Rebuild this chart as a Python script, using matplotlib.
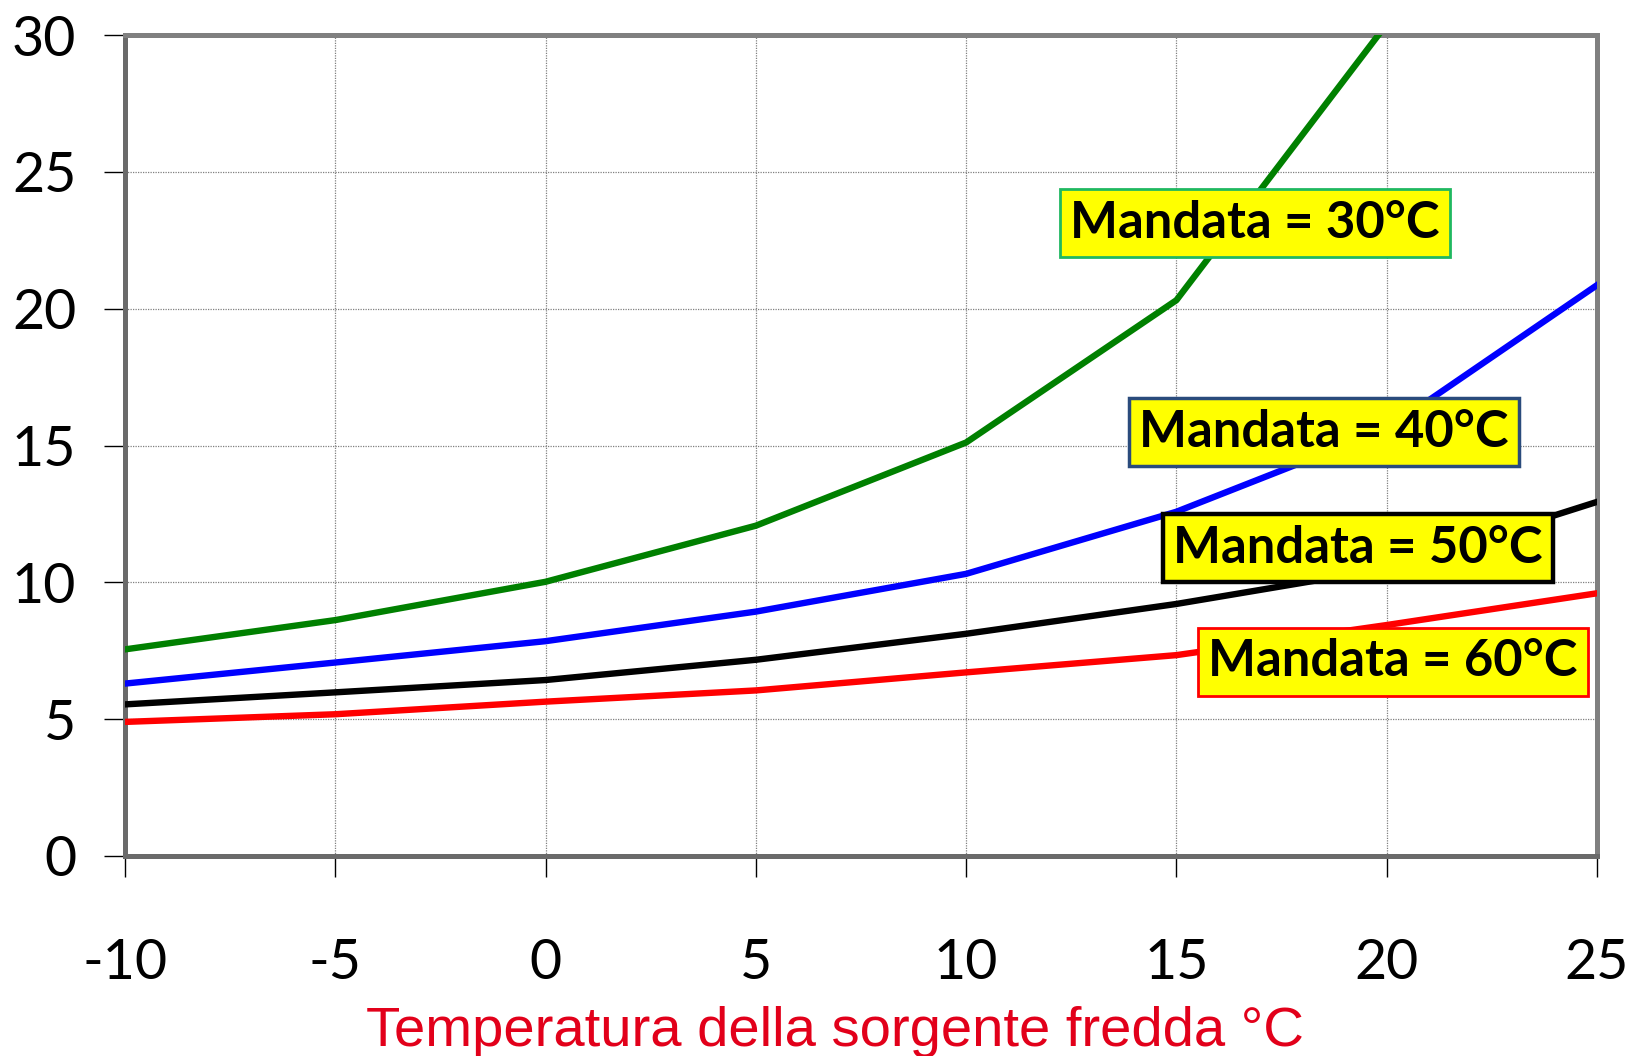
import matplotlib
matplotlib.use("Agg")
import matplotlib.pyplot as plt

# ---- data ----
temp_source = [-10, -5, 0, 5, 10, 15, 20, 25]
cop_30 = [7.55, 8.62, 10.02, 12.07, 15.11, 20.31, 30.4]
cop_40 = [6.30, 7.07, 7.85, 8.93, 10.31, 12.58, 15.6, 20.86]
cop_50 = [5.54, 5.98, 6.43, 7.17, 8.12, 9.21, 10.5, 12.94]
cop_60 = [4.90, 5.18, 5.64, 6.05, 6.71, 7.34, 8.44, 9.60]
series_labels = ["Mandata = 30°C", "Mandata = 40°C", "Mandata = 50°C", "Mandata = 60°C"]
x_ticks = [-10, -5, 0, 5, 10, 15, 20, 25]
y_ticks = [0, 5, 10, 15, 20, 25, 30]
x_title = "Temperatura della sorgente fredda °C"

fig = plt.figure(figsize=(16.34, 10.56), dpi=100)
ax = fig.add_axes([125/1634, 1-856/1056, (1597-125)/1634, (856-35)/1056])

line_colors = ["#008000", "#0000ff", "#000000", "#ff0000"]
series = [cop_30, cop_40, cop_50, cop_60]
for vals, c in zip(series, line_colors):
    ax.plot(temp_source[:len(vals)], vals, color=c, lw=4.6, solid_joinstyle="round", zorder=3)

ax.set_xlim(-10, 25)
ax.set_ylim(0, 30)
ax.set_xticks(x_ticks)
ax.set_yticks(y_ticks)
ax.set_xticklabels([str(v) for v in x_ticks])
ax.set_yticklabels([str(v) for v in y_ticks])

ax.grid(True, color="#808080", lw=0.9, linestyle=(0, (1, 1)), zorder=1)
for sp in ax.spines.values():
    sp.set_color("#808080")
    sp.set_linewidth(3.6)
ax.spines["left"].set_color("#6a6a6a")
ax.spines["bottom"].set_color("#6a6a6a")

ax.tick_params(axis="both", direction="out", length=15, width=1, color="black",
               labelsize=40)
ax.tick_params(axis="y", pad=20)
ax.tick_params(axis="x", pad=44)
for lab in ax.get_xticklabels() + ax.get_yticklabels():
    lab.set_fontfamily(["Lato", "DejaVu Sans"])

# x axis title (placed slightly left of centre, as in the original)
fig.text(835/1634, 1-1046/1056, x_title, color="#e2001a", fontsize=40.5,
         family=["Liberation Sans", "DejaVu Sans"], ha="center", va="baseline")

# annotation boxes
box_pos = [(16.87, 23.13), (18.51, 15.49), (19.32, 11.25), (20.15, 7.09)]
box_edges = ["#1fb860", "#2a4b7c", "#000000", "#ff0000"]
box_lw = [2.0, 2.5, 3.2, 2.0]
for lab, (bx, by), ec, lw in zip(series_labels, box_pos, box_edges, box_lw):
    ax.text(bx, by, lab, ha="center", va="center", fontsize=36.5, fontweight="bold",
            family=["Lato", "DejaVu Sans"], color="black", zorder=5,
            bbox=dict(boxstyle="square,pad=0.2", facecolor="#ffff00", edgecolor=ec, linewidth=lw))

fig.savefig("out.png", dpi=100)
